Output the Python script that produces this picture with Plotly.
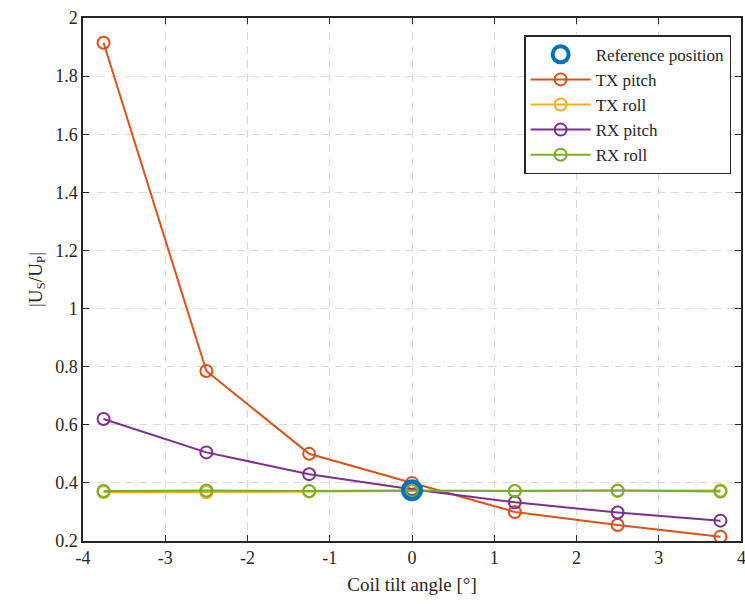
import plotly.graph_objects as go

angles = [-3.75, -2.5, -1.25, 0, 1.25, 2.5, 3.75]
tx_pitch = [1.915, 0.785, 0.50, 0.40, 0.30, 0.255, 0.215]
tx_roll = [0.368, 0.368, 0.370, 0.372, 0.372, 0.372, 0.374]
rx_pitch = [0.62, 0.505, 0.43, 0.378, 0.333, 0.298, 0.270]
rx_roll = [0.372, 0.374, 0.372, 0.374, 0.372, 0.374, 0.370]
ref_x = [0]
ref_y = [0.375]

x_ticks = [-4, -3, -2, -1, 0, 1, 2, 3, 4]
x_ticklabels = ["-4", "-3", "-2", "-1", "0", "1", "2", "3", "4"]
y_ticks = [0.2, 0.4, 0.6, 0.8, 1.0, 1.2, 1.4, 1.6, 1.8, 2.0]
y_ticklabels = ["0.2", "0.4", "0.6", "0.8", "1", "1.2", "1.4", "1.6", "1.8", "2"]

colors = {"ref": "#0072BD", "txp": "#D95319", "txr": "#EDB120", "rxp": "#7E2F8E", "rxr": "#77AC30"}
font = "Liberation Serif, Times New Roman, serif"
ink = "#262626"

fig = go.Figure()
series = [("TX pitch", tx_pitch, colors["txp"], 2),
          ("TX roll", tx_roll, colors["txr"], 3),
          ("RX pitch", rx_pitch, colors["rxp"], 4),
          ("RX roll", rx_roll, colors["rxr"], 5)]
for name, ys, c, rank in series:
    fig.add_trace(go.Scatter(x=angles, y=ys, name=name, mode="lines+markers",
                             line=dict(color=c, width=2),
                             marker=dict(symbol="circle-open", size=12, color=c, line=dict(width=2)),
                             legendrank=rank))
fig.add_trace(go.Scatter(x=ref_x, y=ref_y, name="Reference position", mode="markers",
                         marker=dict(symbol="circle-open", size=18, color=colors["ref"], line=dict(width=4)),
                         legendrank=1))

axis_common = dict(showgrid=True, gridcolor="#d8d8d8", griddash="8px,6px", gridwidth=1.2,
                   showline=True, linecolor=ink, linewidth=1.5, mirror="ticks",
                   ticks="inside", ticklen=6, tickcolor=ink, zeroline=False, automargin=False,
                   tickfont=dict(family=font, size=18, color=ink))
fig.update_xaxes(range=[-4, 4], tickmode="array", tickvals=x_ticks, ticktext=x_ticklabels,
                 title=dict(text="Coil tilt angle [°]", font=dict(family=font, size=19, color=ink), standoff=10),
                 **axis_common)
fig.update_yaxes(range=[0.2, 2], tickmode="array", tickvals=y_ticks, ticktext=y_ticklabels,
                 title=dict(text="|U<sub>S</sub>/U<sub>P</sub>|", font=dict(family=font, size=19, color=ink), standoff=8),
                 **axis_common)

# last x tick label sits on the page edge (partly cut in the original too)
fig.add_annotation(x=x_ticks[-1], xref="x", y=0, yref="paper", yanchor="top", yshift=-5,
                   text=x_ticklabels[-1], showarrow=False,
                   font=dict(family=font, size=18, color=ink))

fig.update_layout(width=745, height=604, margin=dict(l=83, r=4, t=18, b=63),
                  plot_bgcolor="white", paper_bgcolor="white",
                  font=dict(family=font, size=17, color=ink),
                  legend=dict(x=0.985, y=0.967, xanchor="right", yanchor="top",
                              bgcolor="white", bordercolor=ink, borderwidth=1.5,
                              font=dict(family=font, size=17, color=ink),
                              tracegroupgap=0, itemwidth=60),
                  showlegend=True)

fig.write_html("out.html", config={"displayModeBar": False},
               post_script="document.body.style.margin='0';document.body.style.padding='0';")
